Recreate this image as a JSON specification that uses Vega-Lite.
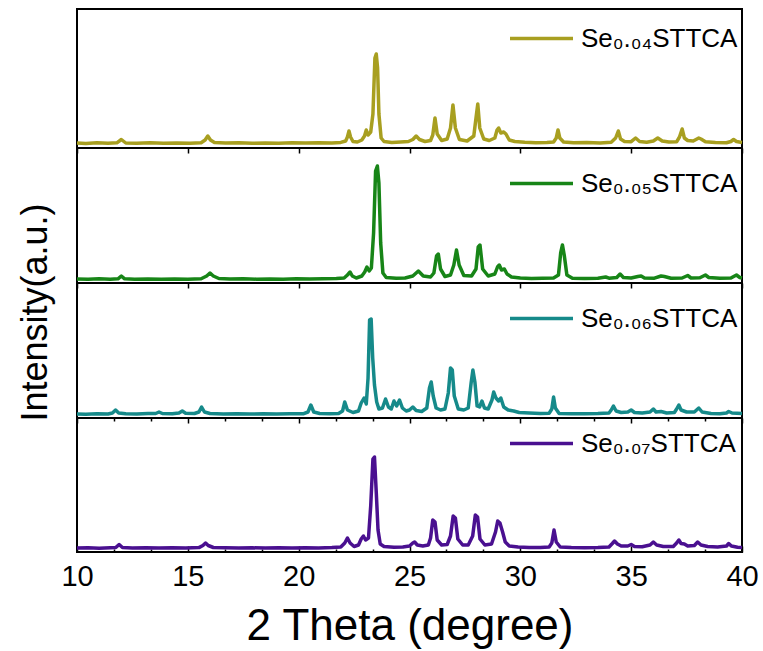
{
"$schema": "https://vega.github.io/schema/vega-lite/v6.json",
"padding": {"left": 17, "top": 4, "right": 4, "bottom": 2},
"background": "white",
"config": {
  "view": {"stroke": "black", "strokeWidth": 2},
  "font": "Liberation Sans",
  "axis": {"domain": false, "grid": false, "tickColor": "black", "tickWidth": 1.5, "labelColor": "black", "titleColor": "black", "labelFont": "Liberation Sans", "titleFont": "Liberation Sans", "titleFontWeight": "normal", "labelFlush": false},
  "legend": {"labelFont": "Liberation Sans", "labelColor": "black"},
  "line": {"strokeWidth": 3.5, "strokeJoin": "round"}
},
"title": {"text": "Intensity(a.u.)", "orient": "left", "anchor": "middle", "fontSize": 36, "fontWeight": "normal", "font": "Liberation Sans", "color": "black", "offset": 5, "dx": 14},
"spacing": 0,
"bounds": "flush",
"resolve": {"scale": {"color": "independent"}},
"datasets": {
"s04": [
{"theta":10.0,"intensity":5},{"theta":10.4,"intensity":4.6},{"theta":10.9,"intensity":5.2},{"theta":11.4,"intensity":4.8},{"theta":11.8,"intensity":5.2},{"theta":12.0,"intensity":8.5},{"theta":12.2,"intensity":5},{"theta":12.7,"intensity":4.7},{"theta":13.3,"intensity":5.2},{"theta":13.9,"intensity":4.8},{"theta":14.5,"intensity":5.1},{"theta":15.1,"intensity":4.7},{"theta":15.6,"intensity":5.3},{"theta":15.78,"intensity":8},{"theta":15.9,"intensity":12},{"theta":16.02,"intensity":8},{"theta":16.2,"intensity":5.5},{"theta":16.7,"intensity":4.9},{"theta":17.3,"intensity":5.2},{"theta":17.9,"intensity":4.7},{"theta":18.5,"intensity":5.1},{"theta":19.1,"intensity":4.8},{"theta":19.7,"intensity":5.2},{"theta":20.3,"intensity":4.9},{"theta":20.9,"intensity":5.3},{"theta":21.5,"intensity":5},{"theta":21.9,"intensity":5.6},{"theta":22.12,"intensity":7},{"theta":22.2,"intensity":11},{"theta":22.27,"intensity":17},{"theta":22.34,"intensity":11},{"theta":22.45,"intensity":6.5},{"theta":22.65,"intensity":6},{"theta":22.85,"intensity":8},{"theta":22.97,"intensity":12},{"theta":23.05,"intensity":18},{"theta":23.13,"intensity":13},{"theta":23.25,"intensity":16},{"theta":23.35,"intensity":34},{"theta":23.44,"intensity":90},{"theta":23.5,"intensity":94},{"theta":23.56,"intensity":80},{"theta":23.62,"intensity":34},{"theta":23.72,"intensity":10},{"theta":23.85,"intensity":6.5},{"theta":24.2,"intensity":5.6},{"theta":24.6,"intensity":6},{"theta":24.95,"intensity":6.5},{"theta":25.15,"intensity":8.5},{"theta":25.3,"intensity":12},{"theta":25.45,"intensity":8.5},{"theta":25.7,"intensity":6.5},{"theta":25.95,"intensity":7.5},{"theta":26.05,"intensity":13},{"theta":26.15,"intensity":30},{"theta":26.25,"intensity":14},{"theta":26.45,"intensity":7.5},{"theta":26.7,"intensity":9},{"theta":26.85,"intensity":20},{"theta":26.96,"intensity":43},{"theta":27.07,"intensity":20},{"theta":27.25,"intensity":8.5},{"theta":27.6,"intensity":7},{"theta":27.9,"intensity":12},{"theta":28.0,"intensity":30},{"theta":28.08,"intensity":44},{"theta":28.17,"intensity":20},{"theta":28.35,"intensity":9},{"theta":28.6,"intensity":7.5},{"theta":28.85,"intensity":10},{"theta":28.95,"intensity":18},{"theta":29.02,"intensity":20},{"theta":29.12,"intensity":15},{"theta":29.25,"intensity":16},{"theta":29.35,"intensity":14},{"theta":29.5,"intensity":8},{"theta":29.75,"intensity":6.5},{"theta":30.2,"intensity":5.8},{"theta":30.7,"intensity":5.3},{"theta":31.2,"intensity":5.6},{"theta":31.5,"intensity":6},{"theta":31.62,"intensity":10},{"theta":31.7,"intensity":18},{"theta":31.78,"intensity":10},{"theta":31.95,"intensity":6},{"theta":32.4,"intensity":5.2},{"theta":33.0,"intensity":5.4},{"theta":33.6,"intensity":5},{"theta":34.1,"intensity":5.8},{"theta":34.3,"intensity":10},{"theta":34.42,"intensity":17},{"theta":34.52,"intensity":9},{"theta":34.7,"intensity":6.5},{"theta":35.0,"intensity":6.3},{"theta":35.2,"intensity":10},{"theta":35.38,"intensity":6.5},{"theta":35.7,"intensity":5.8},{"theta":36.0,"intensity":7},{"theta":36.2,"intensity":10},{"theta":36.4,"intensity":7},{"theta":36.7,"intensity":6},{"theta":37.05,"intensity":6.2},{"theta":37.18,"intensity":11},{"theta":37.3,"intensity":19},{"theta":37.4,"intensity":10},{"theta":37.55,"intensity":7.5},{"theta":37.8,"intensity":7},{"theta":38.05,"intensity":10},{"theta":38.15,"intensity":9},{"theta":38.35,"intensity":6.2},{"theta":38.8,"intensity":5.5},{"theta":39.3,"intensity":5.2},{"theta":39.5,"intensity":6.5},{"theta":39.62,"intensity":8.5},{"theta":39.75,"intensity":6.5},{"theta":40.0,"intensity":5.5}
],
"s05": [
{"theta":10.0,"intensity":4},{"theta":10.5,"intensity":3.7},{"theta":11.0,"intensity":4.2},{"theta":11.5,"intensity":3.8},{"theta":11.85,"intensity":4.2},{"theta":12.0,"intensity":7},{"theta":12.15,"intensity":4.2},{"theta":12.6,"intensity":3.8},{"theta":13.2,"intensity":4.1},{"theta":13.8,"intensity":3.7},{"theta":14.4,"intensity":4.1},{"theta":15.0,"intensity":3.8},{"theta":15.6,"intensity":4.3},{"theta":15.85,"intensity":7},{"theta":16.0,"intensity":10},{"theta":16.15,"intensity":7},{"theta":16.4,"intensity":4.5},{"theta":16.9,"intensity":4},{"theta":17.5,"intensity":4.2},{"theta":18.1,"intensity":3.8},{"theta":18.7,"intensity":4.1},{"theta":19.3,"intensity":3.8},{"theta":19.9,"intensity":4.2},{"theta":20.5,"intensity":3.9},{"theta":21.1,"intensity":4.3},{"theta":21.7,"intensity":4.4},{"theta":22.05,"intensity":5},{"theta":22.2,"intensity":8},{"theta":22.32,"intensity":11},{"theta":22.42,"intensity":7},{"theta":22.6,"intensity":5},{"theta":22.85,"intensity":7},{"theta":22.98,"intensity":11},{"theta":23.08,"intensity":16},{"theta":23.18,"intensity":12},{"theta":23.28,"intensity":15},{"theta":23.38,"intensity":50},{"theta":23.47,"intensity":112},{"theta":23.55,"intensity":117},{"theta":23.62,"intensity":100},{"theta":23.7,"intensity":40},{"theta":23.8,"intensity":10},{"theta":23.95,"intensity":5.5},{"theta":24.4,"intensity":4.8},{"theta":24.8,"intensity":5},{"theta":25.15,"intensity":7},{"theta":25.4,"intensity":12},{"theta":25.62,"intensity":7},{"theta":25.95,"intensity":6},{"theta":26.1,"intensity":10},{"theta":26.22,"intensity":27},{"theta":26.3,"intensity":29},{"theta":26.4,"intensity":14},{"theta":26.6,"intensity":6.5},{"theta":26.85,"intensity":8},{"theta":27.0,"intensity":18},{"theta":27.12,"intensity":33},{"theta":27.24,"intensity":18},{"theta":27.45,"intensity":7.5},{"theta":27.8,"intensity":7},{"theta":28.0,"intensity":14},{"theta":28.1,"intensity":36},{"theta":28.18,"intensity":38},{"theta":28.3,"intensity":14},{"theta":28.55,"intensity":7},{"theta":28.85,"intensity":9},{"theta":28.97,"intensity":16},{"theta":29.05,"intensity":18},{"theta":29.15,"intensity":13},{"theta":29.28,"intensity":14},{"theta":29.4,"intensity":9},{"theta":29.6,"intensity":6},{"theta":30.0,"intensity":5},{"theta":30.5,"intensity":4.5},{"theta":31.0,"intensity":4.8},{"theta":31.5,"intensity":5},{"theta":31.72,"intensity":8},{"theta":31.82,"intensity":30},{"theta":31.9,"intensity":38},{"theta":31.98,"intensity":28},{"theta":32.1,"intensity":8},{"theta":32.35,"intensity":4.8},{"theta":32.9,"intensity":4.5},{"theta":33.5,"intensity":4.7},{"theta":33.85,"intensity":6},{"theta":34.0,"intensity":4.8},{"theta":34.35,"intensity":5.5},{"theta":34.5,"intensity":9},{"theta":34.65,"intensity":5.5},{"theta":35.0,"intensity":5},{"theta":35.3,"intensity":6.5},{"theta":35.45,"intensity":7},{"theta":35.6,"intensity":5},{"theta":36.05,"intensity":4.8},{"theta":36.35,"intensity":7},{"theta":36.5,"intensity":6.5},{"theta":36.8,"intensity":4.8},{"theta":37.3,"intensity":5},{"theta":37.55,"intensity":7.5},{"theta":37.7,"intensity":5},{"theta":38.1,"intensity":5.2},{"theta":38.35,"intensity":8},{"theta":38.5,"intensity":5.5},{"theta":39.0,"intensity":4.7},{"theta":39.5,"intensity":5},{"theta":39.75,"intensity":8},{"theta":39.9,"intensity":5.5},{"theta":40.0,"intensity":5}
],
"s06": [
{"theta":10.0,"intensity":4},{"theta":10.4,"intensity":3.8},{"theta":10.9,"intensity":4.3},{"theta":11.4,"intensity":4},{"theta":11.6,"intensity":5},{"theta":11.74,"intensity":8},{"theta":11.88,"intensity":5},{"theta":12.2,"intensity":4.3},{"theta":12.7,"intensity":4},{"theta":13.2,"intensity":4.5},{"theta":13.55,"intensity":4.5},{"theta":13.7,"intensity":6},{"theta":13.85,"intensity":4.5},{"theta":14.3,"intensity":4.2},{"theta":14.6,"intensity":5},{"theta":14.75,"intensity":7},{"theta":14.9,"intensity":4.8},{"theta":15.3,"intensity":4.5},{"theta":15.5,"intensity":6},{"theta":15.62,"intensity":11},{"theta":15.75,"intensity":6},{"theta":16.0,"intensity":4.5},{"theta":16.6,"intensity":4},{"theta":17.2,"intensity":4.3},{"theta":17.8,"intensity":4},{"theta":18.4,"intensity":4.2},{"theta":19.0,"intensity":4},{"theta":19.6,"intensity":4.3},{"theta":20.2,"intensity":4.2},{"theta":20.42,"intensity":6},{"theta":20.55,"intensity":13},{"theta":20.68,"intensity":6},{"theta":20.95,"intensity":4.5},{"theta":21.4,"intensity":4.3},{"theta":21.8,"intensity":4.5},{"theta":21.98,"intensity":7},{"theta":22.08,"intensity":16},{"theta":22.2,"intensity":8},{"theta":22.45,"intensity":5.5},{"theta":22.7,"intensity":7},{"theta":22.82,"intensity":15},{"theta":22.95,"intensity":20},{"theta":23.05,"intensity":14},{"theta":23.13,"intensity":40},{"theta":23.2,"intensity":98},{"theta":23.27,"intensity":99},{"theta":23.34,"intensity":60},{"theta":23.42,"intensity":33},{"theta":23.52,"intensity":16},{"theta":23.62,"intensity":9},{"theta":23.78,"intensity":10},{"theta":23.92,"intensity":19},{"theta":24.05,"intensity":11},{"theta":24.18,"intensity":9},{"theta":24.3,"intensity":17},{"theta":24.42,"intensity":12},{"theta":24.55,"intensity":18},{"theta":24.68,"intensity":10},{"theta":24.85,"intensity":7},{"theta":25.0,"intensity":8},{"theta":25.15,"intensity":11},{"theta":25.3,"intensity":7.5},{"theta":25.55,"intensity":6.5},{"theta":25.78,"intensity":10},{"theta":25.9,"intensity":30},{"theta":25.98,"intensity":36},{"theta":26.07,"intensity":22},{"theta":26.2,"intensity":10},{"theta":26.4,"intensity":8},{"theta":26.6,"intensity":9},{"theta":26.75,"intensity":25},{"theta":26.85,"intensity":50},{"theta":26.93,"intensity":48},{"theta":27.02,"intensity":22},{"theta":27.2,"intensity":9},{"theta":27.45,"intensity":8},{"theta":27.65,"intensity":10},{"theta":27.78,"intensity":35},{"theta":27.86,"intensity":48},{"theta":27.95,"intensity":36},{"theta":28.05,"intensity":12},{"theta":28.16,"intensity":11},{"theta":28.27,"intensity":17},{"theta":28.38,"intensity":10},{"theta":28.55,"intensity":9},{"theta":28.72,"intensity":18},{"theta":28.8,"intensity":26},{"theta":28.9,"intensity":20},{"theta":29.02,"intensity":17},{"theta":29.12,"intensity":20},{"theta":29.25,"intensity":11},{"theta":29.45,"intensity":8},{"theta":29.7,"intensity":7},{"theta":29.95,"intensity":5.5},{"theta":30.4,"intensity":5},{"theta":30.9,"intensity":4.6},{"theta":31.3,"intensity":4.8},{"theta":31.42,"intensity":9},{"theta":31.5,"intensity":21},{"theta":31.58,"intensity":10},{"theta":31.75,"intensity":4.5},{"theta":32.3,"intensity":4.3},{"theta":32.9,"intensity":4.2},{"theta":33.5,"intensity":4.5},{"theta":34.0,"intensity":5},{"theta":34.1,"intensity":8},{"theta":34.2,"intensity":12},{"theta":34.32,"intensity":7},{"theta":34.55,"intensity":5.5},{"theta":34.85,"intensity":6},{"theta":35.0,"intensity":8},{"theta":35.15,"intensity":5.5},{"theta":35.5,"intensity":5},{"theta":35.85,"intensity":6},{"theta":36.0,"intensity":9},{"theta":36.12,"intensity":6},{"theta":36.35,"intensity":6.5},{"theta":36.6,"intensity":5},{"theta":36.95,"intensity":5.5},{"theta":37.05,"intensity":9},{"theta":37.15,"intensity":13},{"theta":37.25,"intensity":8},{"theta":37.5,"intensity":6},{"theta":37.85,"intensity":6},{"theta":38.05,"intensity":10},{"theta":38.2,"intensity":6},{"theta":38.6,"intensity":4.5},{"theta":39.0,"intensity":4.3},{"theta":39.3,"intensity":5},{"theta":39.4,"intensity":6.5},{"theta":39.55,"intensity":5},{"theta":40.0,"intensity":4.5}
],
"s07": [
{"theta":10.0,"intensity":4},{"theta":10.5,"intensity":4.2},{"theta":11.0,"intensity":3.8},{"theta":11.5,"intensity":4.3},{"theta":11.75,"intensity":4.5},{"theta":11.9,"intensity":7.5},{"theta":12.05,"intensity":4.5},{"theta":12.5,"intensity":4},{"theta":13.1,"intensity":4.3},{"theta":13.7,"intensity":4},{"theta":14.3,"intensity":4.2},{"theta":14.9,"intensity":3.9},{"theta":15.5,"intensity":4.4},{"theta":15.68,"intensity":6.5},{"theta":15.8,"intensity":9},{"theta":15.92,"intensity":6.5},{"theta":16.15,"intensity":4.5},{"theta":16.7,"intensity":4.2},{"theta":17.3,"intensity":4},{"theta":17.9,"intensity":4.2},{"theta":18.5,"intensity":3.9},{"theta":19.1,"intensity":4.2},{"theta":19.7,"intensity":4},{"theta":20.3,"intensity":4.3},{"theta":20.9,"intensity":4.1},{"theta":21.5,"intensity":4.4},{"theta":21.9,"intensity":5},{"theta":22.08,"intensity":9},{"theta":22.2,"intensity":14},{"theta":22.32,"intensity":9},{"theta":22.5,"intensity":5.5},{"theta":22.7,"intensity":7},{"theta":22.82,"intensity":13},{"theta":22.92,"intensity":16},{"theta":23.02,"intensity":12},{"theta":23.15,"intensity":14},{"theta":23.25,"intensity":46},{"theta":23.35,"intensity":93},{"theta":23.42,"intensity":95},{"theta":23.5,"intensity":60},{"theta":23.58,"intensity":22},{"theta":23.68,"intensity":8},{"theta":23.85,"intensity":5.5},{"theta":24.3,"intensity":4.8},{"theta":24.7,"intensity":5},{"theta":25.0,"intensity":6},{"theta":25.15,"intensity":9},{"theta":25.23,"intensity":10},{"theta":25.35,"intensity":7},{"theta":25.6,"intensity":6},{"theta":25.85,"intensity":7},{"theta":25.95,"intensity":14},{"theta":26.05,"intensity":32},{"theta":26.15,"intensity":30},{"theta":26.25,"intensity":12},{"theta":26.45,"intensity":7},{"theta":26.7,"intensity":7.5},{"theta":26.85,"intensity":16},{"theta":26.97,"intensity":36},{"theta":27.07,"intensity":34},{"theta":27.18,"intensity":13},{"theta":27.4,"intensity":7},{"theta":27.65,"intensity":7},{"theta":27.85,"intensity":16},{"theta":27.97,"intensity":37},{"theta":28.07,"intensity":35},{"theta":28.18,"intensity":13},{"theta":28.4,"intensity":7},{"theta":28.7,"intensity":8},{"theta":28.88,"intensity":20},{"theta":28.98,"intensity":31},{"theta":29.08,"intensity":29},{"theta":29.2,"intensity":20},{"theta":29.32,"intensity":10},{"theta":29.5,"intensity":6},{"theta":29.9,"intensity":5},{"theta":30.4,"intensity":4.6},{"theta":30.9,"intensity":4.5},{"theta":31.3,"intensity":5},{"theta":31.42,"intensity":9},{"theta":31.52,"intensity":22},{"theta":31.62,"intensity":10},{"theta":31.8,"intensity":5},{"theta":32.3,"intensity":4.4},{"theta":32.9,"intensity":4.2},{"theta":33.5,"intensity":4.5},{"theta":34.0,"intensity":5},{"theta":34.15,"intensity":8.5},{"theta":34.25,"intensity":11},{"theta":34.38,"intensity":8},{"theta":34.55,"intensity":6},{"theta":34.85,"intensity":6},{"theta":35.0,"intensity":7.5},{"theta":35.15,"intensity":5.5},{"theta":35.5,"intensity":5.3},{"theta":35.85,"intensity":7},{"theta":36.0,"intensity":10},{"theta":36.15,"intensity":7},{"theta":36.45,"intensity":5.5},{"theta":36.9,"intensity":5.5},{"theta":37.05,"intensity":9},{"theta":37.15,"intensity":12},{"theta":37.25,"intensity":8.5},{"theta":37.4,"intensity":8},{"theta":37.55,"intensity":6},{"theta":37.85,"intensity":6.5},{"theta":38.0,"intensity":10},{"theta":38.15,"intensity":7},{"theta":38.45,"intensity":5.5},{"theta":38.9,"intensity":5},{"theta":39.3,"intensity":6},{"theta":39.4,"intensity":8.5},{"theta":39.52,"intensity":6},{"theta":39.8,"intensity":4.8},{"theta":40.0,"intensity":4.5}
]
},
"vconcat": [
{
  "width": 665, "height": 139,
  "data": {"name": "s04"},
  "mark": {"type": "line"},
  "encoding": {
    "x": {"field": "theta", "type": "quantitative", "scale": {"domain": [10, 40], "nice": false, "zero": false}, "axis": {"values": [10,15,20,25,30,35,40], "labels": false, "title": null, "tickSize": 5}},
    "y": {"field": "intensity", "type": "quantitative", "scale": {"domain": [0, 139], "nice": false}, "axis": null},
    "color": {"datum": "Se₀.₀₄STTCA", "type": "nominal", "scale": {"range": ["#A89F20"]}, "legend": {"title": null, "orient": "none", "legendX": 431, "legendY": -4, "symbolType": "stroke", "symbolSize": 3969, "symbolStrokeWidth": 3.5, "labelFontSize": 26, "labelOffset": 6, "padding": 0}}
  }
},
{
  "width": 665, "height": 135,
  "data": {"name": "s05"},
  "mark": {"type": "line"},
  "encoding": {
    "x": {"field": "theta", "type": "quantitative", "scale": {"domain": [10, 40], "nice": false, "zero": false}, "axis": {"values": [10,15,20,25,30,35,40], "labels": false, "title": null, "tickSize": 5}},
    "y": {"field": "intensity", "type": "quantitative", "scale": {"domain": [0, 135], "nice": false}, "axis": null},
    "color": {"datum": "Se₀.₀₅STTCA", "type": "nominal", "scale": {"range": ["#178517"]}, "legend": {"title": null, "orient": "none", "legendX": 431, "legendY": 2, "symbolType": "stroke", "symbolSize": 3969, "symbolStrokeWidth": 3.5, "labelFontSize": 26, "labelOffset": 6, "padding": 0}}
  }
},
{
  "width": 665, "height": 135,
  "data": {"name": "s06"},
  "mark": {"type": "line"},
  "encoding": {
    "x": {"field": "theta", "type": "quantitative", "scale": {"domain": [10, 40], "nice": false, "zero": false}, "axis": {"values": [10,11.6667,13.3333,15,16.6667,18.3333,20,21.6667,23.3333,25,26.6667,28.3333,30,31.6667,33.3333,35,36.6667,38.3333,40], "labels": false, "title": null, "tickSize": {"condition": {"test": "abs(datum.value % 5) < 0.01", "value": 5}, "value": 3}}},
    "y": {"field": "intensity", "type": "quantitative", "scale": {"domain": [0, 135], "nice": false}, "axis": null},
    "color": {"datum": "Se₀.₀₆STTCA", "type": "nominal", "scale": {"range": ["#168A8A"]}, "legend": {"title": null, "orient": "none", "legendX": 431, "legendY": 2, "symbolType": "stroke", "symbolSize": 3969, "symbolStrokeWidth": 3.5, "labelFontSize": 26, "labelOffset": 6, "padding": 0}}
  }
},
{
  "width": 665, "height": 134,
  "data": {"name": "s07"},
  "mark": {"type": "line"},
  "encoding": {
    "x": {"field": "theta", "type": "quantitative", "scale": {"domain": [10, 40], "nice": false, "zero": false}, "axis": {"values": [10,11.6667,13.3333,15,16.6667,18.3333,20,21.6667,23.3333,25,26.6667,28.3333,30,31.6667,33.3333,35,36.6667,38.3333,40], "labelExpr": "abs(datum.value % 5) < 0.01 ? datum.label : ''", "labelFontSize": 29, "labelPadding": 16, "title": "2 Theta (degree)", "titleFontSize": 44, "titlePadding": 13, "tickSize": {"condition": {"test": "abs(datum.value % 5) < 0.01", "value": -6}, "value": -3}}},
    "y": {"field": "intensity", "type": "quantitative", "scale": {"domain": [0, 134], "nice": false}, "axis": null},
    "color": {"datum": "Se₀.₀₇STTCA", "type": "nominal", "scale": {"range": ["#4A1090"]}, "legend": {"title": null, "orient": "none", "legendX": 431, "legendY": -8, "symbolType": "stroke", "symbolSize": 3969, "symbolStrokeWidth": 3.5, "labelFontSize": 26, "labelOffset": 6, "padding": 0}}
  }
}
]
}
